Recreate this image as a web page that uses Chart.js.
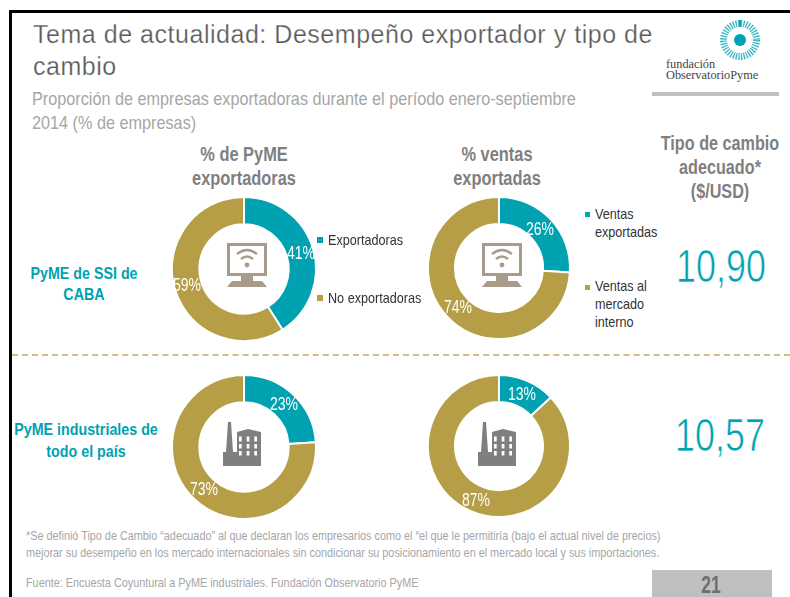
<!DOCTYPE html>
<html><head><meta charset="utf-8">
<script src="https://cdn.jsdelivr.net/npm/chart.js@4"></script>
<style>
html,body{margin:0;padding:0;background:#fff;width:790px;height:597px;overflow:hidden}
#p{position:relative;width:790px;height:597px;font-family:"Liberation Sans",sans-serif;overflow:hidden}
.t{position:absolute;white-space:nowrap;transform-origin:0 0}
.c{text-align:center}
canvas{position:absolute}
.pct{color:#fff;font-size:17.5px;line-height:18px;transform:translate(-50%,-50%) scaleX(.8);transform-origin:50% 50%}
.leg{color:#333;font-size:14.5px;line-height:20px;transform:scaleX(.87)}
.sq{position:absolute;width:6px;height:6px}
.hd{color:#7f7f7f;font-size:20px;font-weight:bold;line-height:24px;transform:translateX(-50%) scaleX(.82);transform-origin:50% 0}
.rw{color:#00a2b1;font-size:17px;font-weight:bold;line-height:21px;transform:translateX(-50%) scaleX(.84);transform-origin:50% 0}
.big{color:#00a2b1;font-size:46px;line-height:50px;transform:translateX(-50%) scaleX(.78);transform-origin:50% 0;-webkit-text-stroke:.7px #fff}
.note{font-size:13px;color:#a6a6a6;transform:scaleX(.833)}
svg{position:absolute}
</style></head><body><div id="p">
<div style="position:absolute;left:9px;top:10px;width:781px;height:3px;background:#000"></div>
<div style="position:absolute;left:9px;top:10px;width:3px;height:587px;background:#000"></div>
<div class="t" style="left:33px;top:18px;font-size:25px;line-height:32px;letter-spacing:.53px;color:#595959;-webkit-text-stroke:.25px #fff">Tema de actualidad: Desempeño exportador y tipo de<br>cambio</div>
<div class="t" style="left:32px;top:87px;font-size:19px;line-height:24px;color:#a6a6a6;transform:scaleX(.854)">Proporción de empresas exportadoras durante el período enero-septiembre<br>2014 (% de empresas)</div>
<div style="position:absolute;left:652px;top:92px;width:127px;height:4px;background:#bfbfbf"></div>
<svg style="left:715px;top:17px" width="50" height="46" viewBox="0 0 50 46"><circle cx="25" cy="23" r="16.5" fill="none" stroke="#00a2b1" stroke-opacity=".75" stroke-width="7" stroke-dasharray="1.4 1.2"/><rect x="24" y="3" width="2" height="7" fill="#00a2b1"/><circle cx="25" cy="23" r="6" fill="#00a2b1"/></svg>
<div class="t" style="left:666px;top:59px;font:12.3px/11px 'Liberation Serif',serif;color:#444">fundación<br>ObservatorioPyme</div>
<div class="t c hd" style="left:244px;top:142px">% de PyME<br>exportadoras</div>
<div class="t c hd" style="left:497px;top:142px">% ventas<br>exportadas</div>
<div class="t c hd" style="left:720px;top:131px;transform:translateX(-50%) scaleX(.81)">Tipo de cambio<br>adecuado*<br>($/USD)</div>
<div class="t c rw" style="left:84px;top:263px">PyME de SSI de<br>CABA</div>
<div class="t c rw" style="left:86px;top:419px;line-height:22px">PyME industriales de<br>todo el país</div>
<div class="t c big" style="left:721px;top:241px">10,90</div>
<div class="t c big" style="left:720px;top:410px">10,57</div>
<div style="position:absolute;left:12px;top:354px;width:778px;border-top:2px dashed #cfc183"></div>
<canvas id="c1" style="left:164px;top:189px"></canvas>
<canvas id="c2" style="left:419px;top:188px"></canvas>
<canvas id="c3" style="left:164px;top:367px"></canvas>
<canvas id="c4" style="left:419px;top:366px"></canvas>
<svg style="left:226px;top:241px" width="42" height="48" viewBox="0 0 42 48"><rect x="2.5" y="3.5" width="37" height="30" fill="none" stroke="#a89b8c" stroke-width="3"/><rect x="15" y="35" width="12" height="5" fill="#a89b8c"/><path d="M1 46 L6 40 H36 L41 46 Z" fill="#a89b8c"/><path d="M11 13 Q21 5 31 13 M15 18 Q21 13 27 18" fill="none" stroke="#a89b8c" stroke-width="2.4"/><circle cx="21" cy="24" r="2.4" fill="#a89b8c"/></svg>
<svg style="left:481px;top:241px" width="42" height="48" viewBox="0 0 42 48"><rect x="2.5" y="3.5" width="37" height="30" fill="none" stroke="#a89b8c" stroke-width="3"/><rect x="15" y="35" width="12" height="5" fill="#a89b8c"/><path d="M1 46 L6 40 H36 L41 46 Z" fill="#a89b8c"/><path d="M11 13 Q21 5 31 13 M15 18 Q21 13 27 18" fill="none" stroke="#a89b8c" stroke-width="2.4"/><circle cx="21" cy="24" r="2.4" fill="#a89b8c"/></svg>
<svg style="left:223px;top:421px" width="40" height="46" viewBox="0 0 40 46"><path fill="#7f7f7f" d="M0 45 V31 H3 L5 1 H8 L10 31 H14 V11 L25 8 L38 11 V45 Z"/><g fill="#fff"><rect x="16" y="15.5" width="2.7" height="5"/><rect x="23.7" y="15.5" width="2.7" height="5"/><rect x="31.3" y="15.5" width="2.7" height="5"/><rect x="16" y="23" width="2.7" height="4.5"/><rect x="23.7" y="23" width="2.7" height="4.5"/><rect x="31.3" y="23" width="2.7" height="4.5"/><rect x="16" y="30" width="2.7" height="4.5"/><rect x="23.7" y="30" width="2.7" height="4.5"/><rect x="31.3" y="30" width="2.7" height="4.5"/></g></svg>
<svg style="left:478px;top:421px" width="40" height="46" viewBox="0 0 40 46"><path fill="#7f7f7f" d="M0 45 V31 H3 L5 1 H8 L10 31 H14 V11 L25 8 L38 11 V45 Z"/><g fill="#fff"><rect x="16" y="15.5" width="2.7" height="5"/><rect x="23.7" y="15.5" width="2.7" height="5"/><rect x="31.3" y="15.5" width="2.7" height="5"/><rect x="16" y="23" width="2.7" height="4.5"/><rect x="23.7" y="23" width="2.7" height="4.5"/><rect x="31.3" y="23" width="2.7" height="4.5"/><rect x="16" y="30" width="2.7" height="4.5"/><rect x="23.7" y="30" width="2.7" height="4.5"/><rect x="31.3" y="30" width="2.7" height="4.5"/></g></svg>
<div class="t pct" style="left:301px;top:253px">41%</div>
<div class="t pct" style="left:187px;top:285px">59%</div>
<div class="t pct" style="left:540px;top:229px">26%</div>
<div class="t pct" style="left:458px;top:307px">74%</div>
<div class="t pct" style="left:284px;top:404px">23%</div>
<div class="t pct" style="left:204px;top:489px">73%</div>
<div class="t pct" style="left:522px;top:394px">13%</div>
<div class="t pct" style="left:476px;top:500px">87%</div>
<div class="sq" style="left:317px;top:237px;background:#00a2b1"></div>
<div class="t leg" style="left:328px;top:230px">Exportadoras</div>
<div class="sq" style="left:317px;top:295px;background:#b59e46"></div>
<div class="t leg" style="left:328px;top:288px">No exportadoras</div>
<div class="sq" style="left:585px;top:212px;width:5px;height:5px;background:#00a2b1"></div>
<div class="t leg" style="left:595px;top:205px;line-height:18px">Ventas<br>exportadas</div>
<div class="sq" style="left:585px;top:285px;width:5px;height:5px;background:#b59e46"></div>
<div class="t leg" style="left:595px;top:277px;line-height:18px">Ventas al<br>mercado<br>interno</div>
<div class="t note" style="left:26px;top:527px;line-height:17px">*Se definió Tipo de Cambio “adecuado” al que declaran los empresarios como el “el que le permitiría (bajo el actual nivel de precios)<br>mejorar su desempeño en los mercado internacionales sin condicionar su posicionamiento en el mercado local y sus importaciones.</div>
<div class="t note" style="left:26px;top:575px;line-height:16px">Fuente: Encuesta Coyuntural a PyME industriales. Fundación Observatorio PyME</div>
<div style="position:absolute;left:652px;top:570px;width:120px;height:27px;background:#bfbfbf"></div>
<div class="t c" style="left:711px;top:572px;font-size:23px;line-height:27px;font-weight:bold;color:#6f6f6f;transform:translateX(-50%) scaleX(.76);transform-origin:50% 0">21</div>
</div>
<script>
const TEAL = "#00a2b1";
const GOLD = "#b59e46";
const catsExport = ["Exportadoras", "No exportadoras"];
const catsVentas = ["Ventas exportadas", "Ventas al mercado interno"];
const ssiEmpresas = [41, 59];
const ssiVentas = [26, 74];
const indEmpresas = [23, 73];
const indVentas = [13, 87];
function donut(id, labels, data, r){
  const el = document.getElementById(id);
  el.width = 160; el.height = 160;
  new Chart(el, {type:"doughnut",
    data:{labels, datasets:[{data, backgroundColor:[TEAL,GOLD], borderColor:"#fff", borderWidth:2, radius:r, cutout:49}]},
    options:{responsive:false, animation:false, events:[],
      plugins:{legend:{display:false}, tooltip:{enabled:false}}}});
}
donut("c1", catsExport, ssiEmpresas, 72);
donut("c2", catsVentas, ssiVentas, 71);
donut("c3", catsExport, indEmpresas, 72);
donut("c4", catsVentas, indVentas, 71);
</script>
</body></html>
